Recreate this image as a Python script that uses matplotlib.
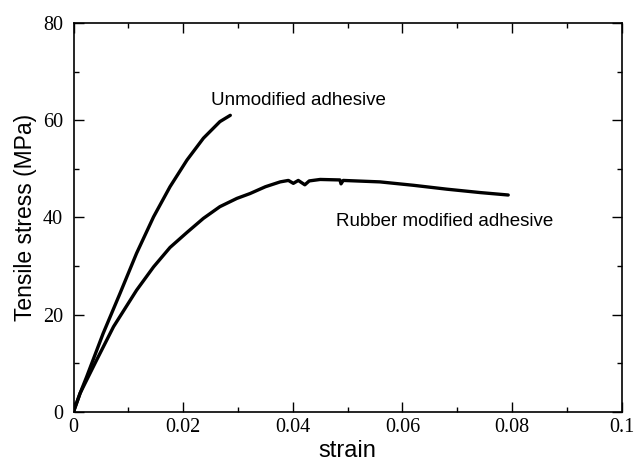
import numpy as np
import matplotlib
matplotlib.use("Agg")
import matplotlib.pyplot as plt
from matplotlib.ticker import MultipleLocator

# stress-strain curves (strain, MPa)
unmod_strain = [0.0, 0.0012, 0.0024, 0.0054, 0.0085, 0.0115, 0.0146, 0.0176,
                0.0207, 0.0237, 0.0267, 0.0286]
unmod_stress = [0.0, 3.8, 7.2, 16.1, 24.4, 32.6, 40.1, 46.3,
                51.8, 56.3, 59.7, 61.0]

rubber_strain = [0.0, 0.0012, 0.0042, 0.0073, 0.0115, 0.0146, 0.0176, 0.0194,
                 0.0207, 0.0237, 0.0267, 0.0298, 0.0322, 0.0350, 0.0377,
                 0.0392, 0.0401, 0.0410, 0.0422, 0.0430, 0.0450, 0.0486,
                 0.0488, 0.0492, 0.0559, 0.0620, 0.0681, 0.0742, 0.0793]
rubber_stress = [0.0, 3.8, 10.6, 17.5, 25.0, 29.8, 33.8, 35.6,
                 36.9, 39.8, 42.2, 43.9, 44.9, 46.3, 47.3,
                 47.6, 47.0, 47.6, 46.7, 47.5, 47.8, 47.7,
                 46.9, 47.6, 47.3, 46.6, 45.8, 45.1, 44.6]

tick_font = "Liberation Serif"
label_font = "Liberation Sans"

fig = plt.figure(figsize=(6.36, 4.63), dpi=100)
ax = fig.add_axes([0.1156, 0.1108, 0.8619, 0.8395])

ax.plot(unmod_strain, unmod_stress, color="black", lw=2.4,
        solid_capstyle="round", solid_joinstyle="round")
ax.plot(rubber_strain, rubber_stress, color="black", lw=2.4,
        solid_capstyle="round", solid_joinstyle="round")

ax.set_xlim(0, 0.1)
ax.set_ylim(0, 80)
ax.xaxis.set_major_locator(MultipleLocator(0.02))
ax.xaxis.set_minor_locator(MultipleLocator(0.01))
ax.yaxis.set_major_locator(MultipleLocator(20))
ax.yaxis.set_minor_locator(MultipleLocator(10))
ax.set_xticks([0, 0.02, 0.04, 0.06, 0.08, 0.1])
ax.set_xticklabels(["0", "0.02", "0.04", "0.06", "0.08", "0.1"])

ax.tick_params(which="both", direction="in", top=True, right=True, width=1.0)
ax.tick_params(which="major", length=7.5)
ax.tick_params(which="minor", length=3.8)
ax.tick_params(axis="x", pad=4.5)
ax.tick_params(axis="y", pad=7.5)
for lab in ax.get_xticklabels() + ax.get_yticklabels():
    lab.set_fontfamily(tick_font)
    lab.set_fontsize(14.5)
for s in ax.spines.values():
    s.set_linewidth(1.2)

ax.set_xlabel("strain", fontfamily=label_font, fontsize=17, labelpad=2.5)
ax.set_ylabel("Tensile stress (MPa)", fontfamily=label_font, fontsize=16.5,
              labelpad=4)

ax.text(0.0250, 63.2, "Unmodified adhesive", fontfamily=label_font,
        fontsize=13.5, va="baseline")
ax.text(0.0479, 38.2, "Rubber modified adhesive", fontfamily=label_font,
        fontsize=13.5, va="baseline")

fig.savefig("out.png", dpi=100)
